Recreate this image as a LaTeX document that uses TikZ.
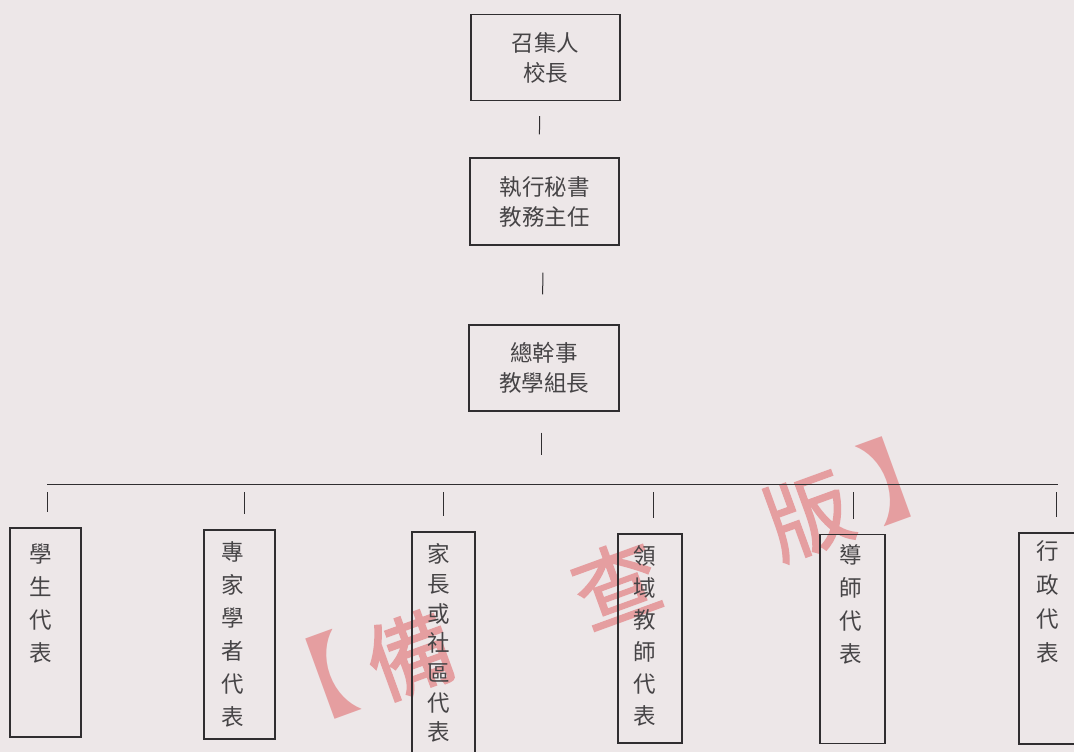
\documentclass[tikz,border=0pt]{standalone}
\usepackage{fontspec}
\newfontfamily\cjk{Noto Sans CJK TC}
\newfontfamily\cjkwm{Noto Sans CJK TC}[FakeBold=1.6]
\usetikzlibrary{calc}
\definecolor{paper}{RGB}{237,231,232}
\definecolor{ink}{RGB}{48,46,48}
\definecolor{txt}{RGB}{70,68,70}
\definecolor{wm}{RGB}{229,158,160}
\begin{document}
\begin{tikzpicture}[x=1pt,y=-1pt,
  box/.style={draw=ink, line width=1.3pt, rectangle, inner sep=0pt},
  topbox/.style={box, minimum width=149pt, minimum height=86pt, align=center,
    font=\cjk\fontsize{22.5}{30}\selectfont, text=txt},
  vbox/.style={box, minimum height=209pt},
  vtext/.style={anchor=north, align=center, inner sep=0pt, text=txt,
    font=\cjk\fontsize{22.5}{33}\selectfont},
  tick/.style={draw=ink, line width=1pt},
  wmark/.style={text=wm, inner sep=0pt, font=\cjkwm\fontsize{86}{86}\selectfont, rotate=20},
  wbracket/.style={text=wm, inner sep=0pt, font=\cjk\bfseries\fontsize{90}{90}\selectfont, rotate=20}
]
\useasboundingbox (0,0) rectangle (1074,752);
\fill[paper] (0,0) rectangle (1074,752);
\clip (0,0) rectangle (1074,752);

% watermark
\node[wbracket] (w0) at (307,684) {【};
\node[wmark] (w1) at (410,655) {備};
\node[wmark] (w2) at (616,583) {查};
\node[wmark] (w3) at (808,515) {版};
\node[wbracket] (w4) at (910,472) {】};

% top chain
\node[topbox] (n1) at (545.5,57.5) {召集人\\校長};
\node[topbox, minimum height=87pt] (n2) at (544.5,201.5) {執行秘書\\教務主任};
\node[topbox, minimum width=150pt] (n3) at (544,368) {總幹事\\教學組長};

\draw[tick, shorten <=15pt, shorten >=23pt] ([xshift=-5.5pt]n1.south) -- ([xshift=-5.5pt]n2.north);
\draw[tick, shorten <=27pt, shorten >=30pt] ([xshift=-1.5pt]n2.south) -- ([xshift=-1.5pt]n3.north);

% horizontal bar
\coordinate (hl) at (47,484);
\coordinate (hr) at (1058,484);
\coordinate (hm) at (541,484);
\draw[tick] (hl) -- (hr);
\draw[tick, shorten <=21pt, shorten >=29pt] ([xshift=-3pt]n3.south) -- (hm);

% bottom boxes
\node[vbox, minimum width=71pt] (b1) at (45.5,632.5) {};
\node[vbox, minimum width=71pt] (b2) at (239.5,634.5) {};
\node[vbox, minimum width=63pt, minimum height=240pt] (b3) at (443.5,652) {};
\node[vbox, minimum width=64pt] (b4) at (650,638.5) {};
\node[vbox, minimum width=65pt] (b5) at (852.5,639) {};
\node[vbox, minimum width=72pt, minimum height=211pt] (b6) at (1055,638.5) {};

\coordinate (c1) at (47,484);
\coordinate (c2) at (244,484);
\coordinate (c3) at (443,484);
\coordinate (c4) at (653,484);
\coordinate (c5) at (853,484);
\coordinate (c6) at (1056,484);
\foreach \i in {1,...,6}{
  \draw[tick, shorten <=8pt, shorten >=15pt] (c\i) -- (c\i |- b\i.north);
}

% vertical texts
\node[vtext] (t1) at ([xshift=-4.5pt,yshift=-16pt]b1.north) {學\\生\\代\\表};
\node[vtext] (t2) at ([xshift=-6.5pt,yshift=-12pt]b2.north) {專\\家\\學\\者\\代\\表};
\node[vtext, font=\cjk\fontsize{22.5}{29.7}\selectfont] (t3) at ([xshift=-4.5pt,yshift=-12pt]b3.north) {家\\長\\或\\社\\區\\代\\表};
\node[vtext, font=\cjk\fontsize{22.5}{32}\selectfont] (t4) at ([xshift=-5pt,yshift=-12pt]b4.north) {領\\域\\教\\師\\代\\表};
\node[vtext] (t5) at ([xshift=-1.5pt,yshift=-10pt]b5.north) {導\\師\\代\\表};
\node[vtext, font=\cjk\fontsize{22.5}{34}\selectfont] (t6) at ([xshift=-7pt,yshift=-8pt]b6.north) {行\\政\\代\\表};
\end{tikzpicture}
\end{document}
